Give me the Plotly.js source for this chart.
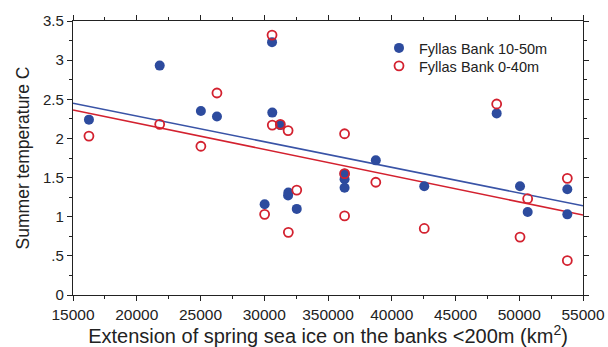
<!DOCTYPE html>
<html>
<head>
<meta charset="utf-8">
<script src="https://cdn.plot.ly/plotly-3.0.1.min.js"></script>
<style>html,body{margin:0;padding:0;background:#fff;}#chart{width:608px;height:347px;}</style>
</head>
<body>
<div id="chart"></div>
<script>
// Sea ice extension (km2) per year, shared by both series
const iceExtent = [16250, 21800, 25030, 26290, 30610, 30630, 31260, 31870, 31890, 30030, 32550,
                   36300, 36300, 36300, 38750, 42550, 48230, 50060, 50660, 53770, 53770];
// Fyllas Bank 10-50m (filled blue)
const temp10to50 = [2.24, 2.93, 2.35, 2.28, 3.23, 2.33, 2.17, 1.27, 1.31, 1.16, 1.10,
                    1.55, 1.48, 1.37, 1.72, 1.39, 2.32, 1.39, 1.06, 1.35, 1.03];
// Fyllas Bank 0-40m (open red)
const temp0to40 = [2.03, 2.18, 1.90, 2.58, 3.32, 2.17, 2.18, 2.10, 0.80, 1.03, 1.34,
                   1.55, 2.06, 1.01, 1.44, 0.85, 2.44, 0.74, 1.23, 1.49, 0.44];

const xTickVals = [15000, 20000, 25000, 30000, 35000, 40000, 45000, 50000, 55000];
const xTickText = ["15000", "20000", "25000", "30000", "350000", "40000", "45000", "50000", "55000"];
const yTickVals = [0, 0.5, 1, 1.5, 2, 2.5, 3, 3.5];
const yTickText = ["0", ".5", "1", "1.5", "2", "2.5", "3", "3.5"];
const seriesNames = ["Fyllas Bank 10-50m", "Fyllas Bank 0-40m"];

function fit(xs, ys) {
  const n = xs.length;
  const mx = xs.reduce((a, b) => a + b, 0) / n;
  const my = ys.reduce((a, b) => a + b, 0) / n;
  let sxy = 0, sxx = 0;
  for (let i = 0; i < n; i++) { sxy += (xs[i] - mx) * (ys[i] - my); sxx += (xs[i] - mx) ** 2; }
  const b = sxy / sxx, a = my - b * mx;
  const x0 = xTickVals[0], x1 = xTickVals[xTickVals.length - 1];
  return { x: [x0, x1], y: [a + b * x0, a + b * x1] };
}

const BLUE = '#2d4b9e', RED = '#d3212f';
const fb = fit(iceExtent, temp10to50), fr = fit(iceExtent, temp0to40);

const traces = [
  { x: fb.x, y: fb.y, mode: 'lines', line: { color: '#3953a6', width: 1.6 }, showlegend: false, hoverinfo: 'skip' },
  { x: fr.x, y: fr.y, mode: 'lines', line: { color: RED, width: 1.6 }, showlegend: false, hoverinfo: 'skip' },
  { x: iceExtent, y: temp10to50, mode: 'markers', name: seriesNames[0], legend: 'legend',
    marker: { symbol: 'circle', size: 10, color: BLUE, line: { width: 0 } } },
  { x: iceExtent, y: temp0to40, mode: 'markers', name: seriesNames[1], legend: 'legend2',
    marker: { symbol: 'circle-open', size: 9, color: RED, line: { width: 1.8, color: RED } } }
];

const FONT = 'Liberation Sans, Arial, sans-serif';
const axisCommon = {
  showline: true, linecolor: '#222', linewidth: 1.2, mirror: 'ticks',
  ticks: 'outside', ticklen: 5, tickwidth: 1, tickcolor: '#222',
  showgrid: false, zeroline: false
};

const legendCommon = {
  x: 0.6, xanchor: 'left', yanchor: 'middle',
  bgcolor: 'rgba(0,0,0,0)', borderwidth: 0,
  font: { family: FONT, size: 14.5, color: '#222' }, itemwidth: 30
};

const layout = {
  width: 608, height: 347,
  margin: { l: 73, r: 25, t: 21, b: 52 },
  paper_bgcolor: '#fff', plot_bgcolor: '#fff',
  font: { family: FONT, color: '#222' },
  xaxis: Object.assign({}, axisCommon, {
    range: [15000, 55000], tickvals: xTickVals, ticktext: xTickText,
    tickfont: { family: FONT, size: 15.5, color: '#222' },
    minor: { dtick: 2500, tick0: 15000, ticks: 'outside', ticklen: 3, tickcolor: '#222' },
    title: { text: 'Extension of spring sea ice on the banks <200m (km<sup>2</sup>)',
             font: { size: 20, color: '#222' }, standoff: 2 }
  }),
  yaxis: Object.assign({}, axisCommon, {
    range: [0, 3.5], tickvals: yTickVals, ticktext: yTickText,
    tickfont: { family: FONT, size: 15, color: '#222' },
    minor: { dtick: 0.25, tick0: 0, ticks: 'outside', ticklen: 3, tickcolor: '#222' },
    title: { text: 'Summer temperature C', font: { size: 17.5, color: '#222' }, standoff: 8 }
  }),
  legend: Object.assign({}, legendCommon, { y: 0.9016 }),
  legend2: Object.assign({}, legendCommon, { y: 0.836 })
};

Plotly.newPlot('chart', traces, layout, { displayModeBar: false, staticPlot: true });
</script>
</body>
</html>
